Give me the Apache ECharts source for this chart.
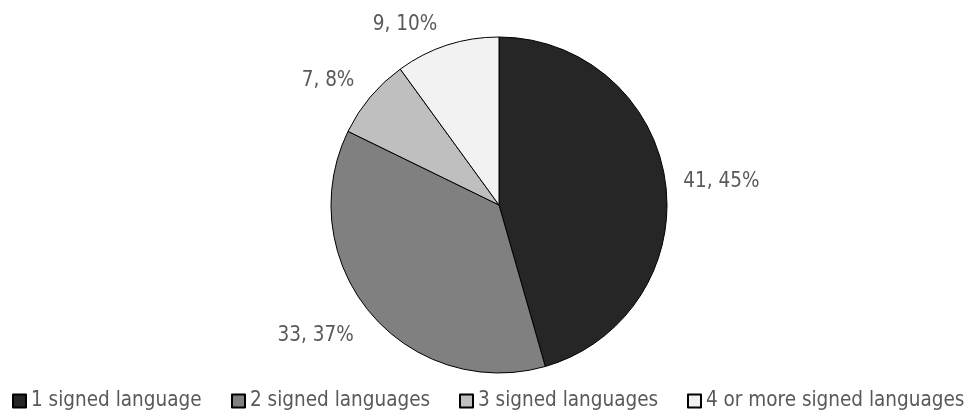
<!DOCTYPE html>
<html>
<head>
<meta charset="utf-8">
<script src="https://cdn.jsdelivr.net/npm/echarts@6/dist/echarts.min.js"></script>
<style>
  html, body { margin: 0; padding: 0; background: #fff; }
  #main { width: 973px; height: 412px; }
</style>
</head>
<body>
<div id="main"></div>
<script>
// categories and values
var categories = ['1 signed language', '2 signed languages', '3 signed languages', '4 or more signed languages'];
var counts = [41, 33, 7, 9];

// styling
var sliceColors = ['#262626', '#808080', '#bfbfbf', '#f2f2f2'];
var legendLeft = [12, 231, 459, 687];
var lineLen = [0, 36, 26, 22];
var lineLen2 = [13, -16, -9, -2];

var FONT = '"DejaVu Sans Condensed", "Liberation Sans Narrow", sans-serif';

var myChart = echarts.init(document.getElementById('main'));

var pieData = [];
for (let i = 0; i < categories.length; i++) {
    pieData.push({
        name: categories[i],
        value: counts[i],
        itemStyle: { color: sliceColors[i] },
        labelLine: { length: lineLen[i], length2: lineLen2[i] }
    });
}

// one legend per item so each sits where the reference puts it
var legends = [];
for (let i = 0; i < categories.length; i++) {
    legends.push({
        data: [categories[i]],
        left: legendLeft[i],
        top: 389,
        padding: 0,
        icon: 'rect',
        itemWidth: 13,
        itemHeight: 13,
        selectedMode: false,
        textStyle: { fontFamily: FONT, fontSize: 20.5, lineHeight: 24, color: '#595959' }
    });
}

myChart.setOption({
    animation: false,
    legend: legends,
    series: [
        {
            type: 'pie',
            center: [499, 205],
            radius: 168,
            startAngle: 90,
            clockwise: true,
            percentPrecision: 0,
            data: pieData,
            itemStyle: { borderColor: '#000', borderWidth: 1 },
            emphasis: { disabled: true },
            label: {
                show: true,
                position: 'outside',
                formatter: '{c}, {d}%',
                fontFamily: FONT,
                fontSize: 20.5,
                color: '#595959'
            },
            labelLine: { show: false }
        }
    ]
});
</script>
</body>
</html>
